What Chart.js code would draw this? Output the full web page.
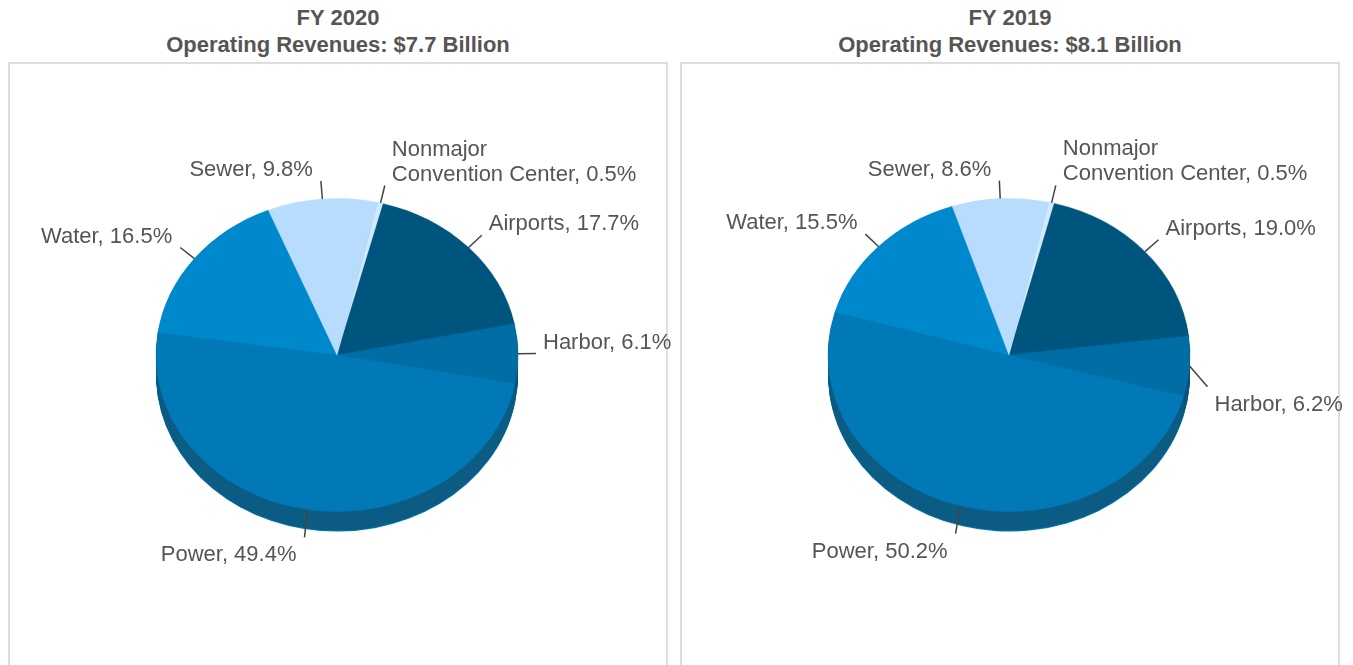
<!DOCTYPE html>
<html>
<head>
<meta charset="utf-8">
<script src="https://cdn.jsdelivr.net/npm/chart.js@4.4.1/dist/chart.umd.min.js"></script>
<style>
  body { margin: 0; background: #fff; font-family: "Liberation Sans", Arial, sans-serif; overflow: hidden; }
  .title { position: absolute; width: 660px; text-align: center; color: #555; font-weight: bold; font-size: 22px; line-height: 27px; top: 4px; }
  .panel { position: absolute; top: 62px; width: 656px; height: 700px; border: 2px solid #dedede; }
  canvas { position: absolute; top: 0; left: 0; }
</style>
</head>
<body>
<div class="title" style="left:8px">FY 2020<br>Operating Revenues: $7.7 Billion</div>
<div class="title" style="left:680px">FY 2019<br>Operating Revenues: $8.1 Billion</div>
<div class="panel" style="left:8px"><canvas id="chart2020" width="690" height="600"></canvas></div>
<div class="panel" style="left:680px"><canvas id="chart2019" width="690" height="600"></canvas></div>
<script>
// slices, clockwise from the top
const categories = [['Nonmajor', 'Convention Center'], 'Airports', 'Harbor', 'Power', 'Water', 'Sewer'];
const fy2020 = [0.5, 17.7, 6.1, 49.4, 16.5, 9.8];
const fy2019 = [0.5, 19.0, 6.2, 50.2, 15.5, 8.6];

const sliceColors = ['#d2e9ff', '#00557f', '#006da5', '#0079b6', '#0088cc', '#b8dcfd'];
const tilt = 0.865;
const depth = 20;

function sideColor(hex) {
  const n = parseInt(hex.slice(1), 16);
  const f = v => Math.round(v * 0.66 + 12);
  return `rgb(${f((n >> 16) & 255)},${f((n >> 8) & 255)},${f(n & 255)})`;
}

function slicePath(ctx, a) {
  ctx.beginPath();
  ctx.moveTo(a.x, a.y);
  ctx.arc(a.x, a.y, a.outerRadius, a.startAngle, a.endAngle);
  ctx.closePath();
}

// squash the pie into an ellipse and give it a side wall
const pie3d = {
  id: 'pie3d',
  beforeDatasetsDraw(chart) {
    const ctx = chart.ctx;
    const arcs = chart.getDatasetMeta(0).data;
    const cx = arcs[0].x, cy = arcs[0].y;
    const colors = chart.data.datasets[0].backgroundColor;
    ctx.save();
    for (let d = depth; d > 0; d--) {
      ctx.save();
      ctx.translate(cx, cy + d);
      ctx.scale(1, tilt);
      ctx.translate(-cx, -cy);
      arcs.forEach((a, i) => {
        ctx.fillStyle = d === depth ? colors[i] : sideColor(colors[i]);
        slicePath(ctx, a);
        ctx.fill();
      });
      ctx.restore();
    }
    ctx.translate(cx, cy);
    ctx.scale(1, tilt);
    ctx.translate(-cx, -cy);
  },
  afterDatasetsDraw(chart) {
    const ctx = chart.ctx;
    ctx.restore();
    const arcs = chart.getDatasetMeta(0).data;
    const values = chart.data.datasets[0].data;
    ctx.save();
    ctx.font = '22px "Liberation Sans", Arial, sans-serif';
    ctx.fillStyle = '#555';
    ctx.strokeStyle = '#444';
    ctx.lineWidth = 1.5;
    ctx.textBaseline = 'middle';
    arcs.forEach((a, i) => {
      const mid = (a.startAngle + a.endAngle) / 2;
      const c = Math.cos(mid), s = Math.sin(mid);
      const sx = a.x + a.outerRadius * c;
      const sy = a.y + a.outerRadius * tilt * s;
      // labels on the front half sit lower, past the side wall
      const drop = s > 0 ? depth * (1 - 0.5 * s) : 0;
      const ex = sx + 18 * c, ey = sy + 18 * s + drop;
      ctx.beginPath();
      ctx.moveTo(sx, sy);
      ctx.lineTo(ex, ey);
      ctx.stroke();

      const name = chart.data.labels[i];
      const lines = Array.isArray(name) ? name.slice() : [name];
      lines[lines.length - 1] += ', ' + values[i].toFixed(1) + '%';
      const right = c >= 0;
      ctx.textAlign = right ? 'left' : 'right';
      const tx = right ? ex + 7 : ex - 8;
      const lh = 25;
      const ty = s <= 0 ? ey - 11 - (lines.length - 1) * lh : ey + 18;
      lines.forEach((t, j) => ctx.fillText(t, tx, ty + j * lh));
    });
    ctx.restore();
  }
};

function makePie(id, values, rotation) {
  return new Chart(document.getElementById(id), {
    type: 'pie',
    data: {
      labels: categories,
      datasets: [{
        data: values,
        backgroundColor: sliceColors,
        borderColor: sliceColors,
        borderWidth: 0.5,
        radius: 181
      }]
    },
    options: {
      responsive: false,
      animation: false,
      rotation: rotation,
      layout: { padding: { left: 146, right: 182, top: 110, bottom: 128 } },
      plugins: { legend: { display: false }, tooltip: { enabled: false } }
    },
    plugins: [pie3d]
  });
}

makePie('chart2020', fy2020, 13);
makePie('chart2019', fy2019, 12.7);
</script>
</body>
</html>
